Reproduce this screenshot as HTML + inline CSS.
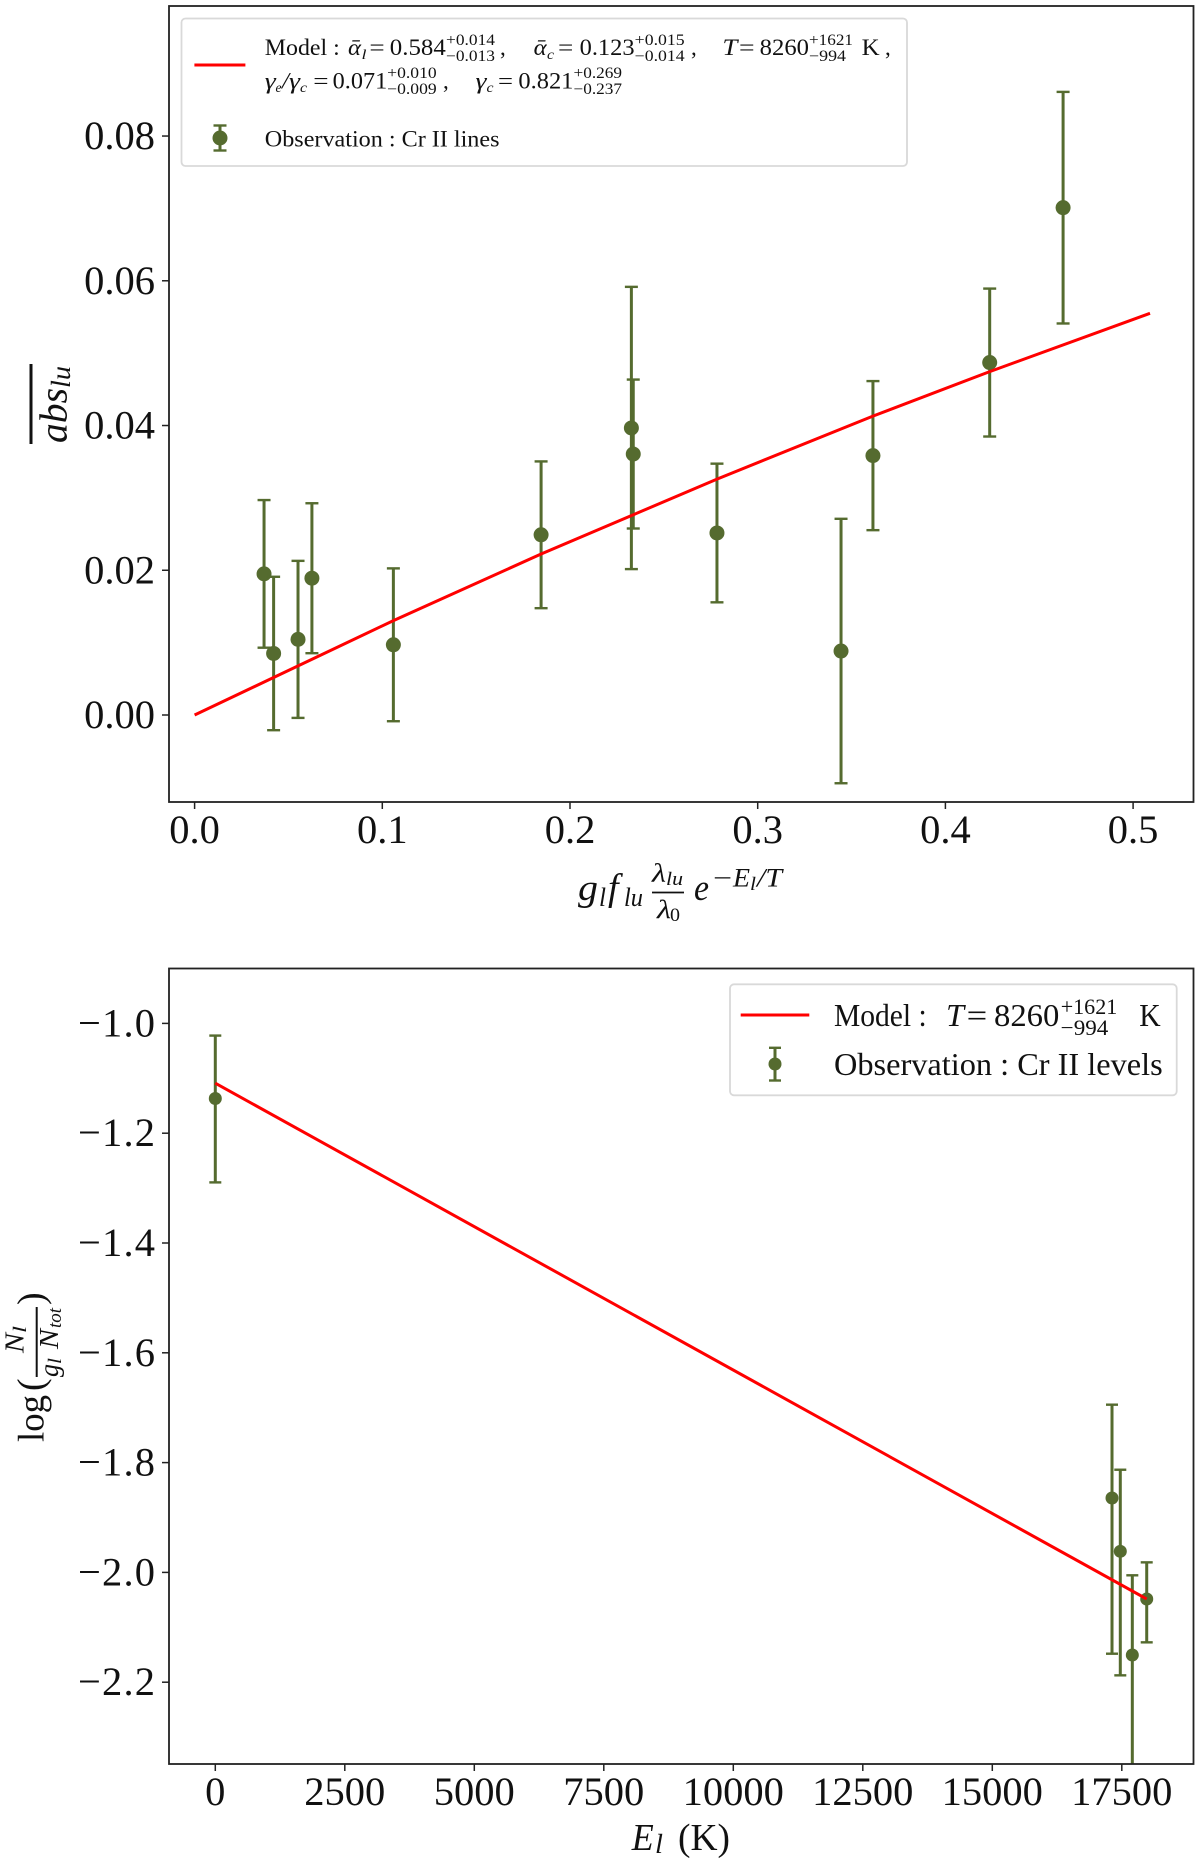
<!DOCTYPE html>
<html lang="en">
<head>
<meta charset="utf-8">
<title>Cr II absorption lines and level populations</title>
<style>
html,body{margin:0;padding:0;background:#fff;width:1200px;height:1863px;overflow:hidden}
svg{display:block}
text{font-family:"Liberation Serif",serif;fill:#111}
.i{font-style:italic}
</style>
</head>
<body>
<svg id="chart" xmlns="http://www.w3.org/2000/svg" width="1200" height="1863" viewBox="0 0 1200 1863">
<defs>
<clipPath id="clip-top"><rect x="169" y="6" width="1024.5" height="796"/></clipPath>
<clipPath id="clip-bot"><rect x="169" y="968.5" width="1024.5" height="795.5"/></clipPath>
</defs>
<g id="top-plot"></g>
<g id="bot-plot"></g>

<g>
<rect x="181.5" y="18.5" width="725.5" height="147.5" rx="4" fill="#fff" fill-opacity=".9" stroke="#d9d9d9" stroke-width="1.8"/>
<line x1="194.4" y1="65" x2="245.4" y2="65" stroke="#ff0000" stroke-width="3"/>
<g stroke="#556b2f" stroke-width="3">
<line x1="220" y1="125" x2="220" y2="151"/><line x1="213.5" y1="125.5" x2="226.5" y2="125.5" stroke-width="2.4"/><line x1="213.5" y1="150.5" x2="226.5" y2="150.5" stroke-width="2.4"/>
<circle cx="220" cy="138" r="7.5" fill="#556b2f" stroke="none"/>
</g>
<g font-size="23">
<text x="264.8" y="55" textLength="75" lengthAdjust="spacingAndGlyphs">Model :</text>
<text class="i" x="348" y="55" textLength="13" lengthAdjust="spacingAndGlyphs">ᾱ</text><text class="i" x="361.5" y="59" font-size="14" textLength="5" lengthAdjust="spacingAndGlyphs">l</text>
<text x="369.4" y="55" textLength="15.3" lengthAdjust="spacingAndGlyphs">=</text>
<text x="389.8" y="55" textLength="56" lengthAdjust="spacingAndGlyphs">0.584</text>
<text x="446" y="45" font-size="15.5" textLength="49" lengthAdjust="spacingAndGlyphs">+0.014</text>
<text x="446" y="61" font-size="15.5" textLength="49" lengthAdjust="spacingAndGlyphs">−0.013</text>
<text x="500" y="55">,</text>
<text class="i" x="533.7" y="55" textLength="13" lengthAdjust="spacingAndGlyphs">ᾱ</text><text class="i" x="547" y="59" font-size="14" textLength="7" lengthAdjust="spacingAndGlyphs">c</text>
<text x="558" y="55" textLength="15.3" lengthAdjust="spacingAndGlyphs">=</text>
<text x="579.6" y="55" textLength="55" lengthAdjust="spacingAndGlyphs">0.123</text>
<text x="634.7" y="45" font-size="15.5" textLength="50" lengthAdjust="spacingAndGlyphs">+0.015</text>
<text x="634.7" y="61" font-size="15.5" textLength="50" lengthAdjust="spacingAndGlyphs">−0.014</text>
<text x="691" y="55">,</text>
<text class="i" x="722.4" y="55" textLength="15" lengthAdjust="spacingAndGlyphs">T</text>
<text x="739" y="55" textLength="15.6" lengthAdjust="spacingAndGlyphs">=</text>
<text x="759.7" y="55" textLength="49.3" lengthAdjust="spacingAndGlyphs">8260</text>
<text x="809" y="45" font-size="15.5" textLength="44" lengthAdjust="spacingAndGlyphs">+1621</text>
<text x="809" y="61" font-size="15.5" textLength="37" lengthAdjust="spacingAndGlyphs">−994</text>
<text x="861.7" y="55" textLength="18" lengthAdjust="spacingAndGlyphs">K</text>
<text x="885" y="55">,</text>
<text class="i" x="264.8" y="88.3" textLength="11" lengthAdjust="spacingAndGlyphs">γ</text><text class="i" x="275.5" y="92" font-size="14" textLength="6" lengthAdjust="spacingAndGlyphs">e</text>
<text class="i" x="282" y="88.3" textLength="7" lengthAdjust="spacingAndGlyphs">/</text>
<text class="i" x="289" y="88.3" textLength="11" lengthAdjust="spacingAndGlyphs">γ</text><text class="i" x="300" y="92" font-size="14" textLength="7" lengthAdjust="spacingAndGlyphs">c</text>
<text x="313.3" y="88.3" textLength="15.3" lengthAdjust="spacingAndGlyphs">=</text>
<text x="332.7" y="88.3" textLength="54.5" lengthAdjust="spacingAndGlyphs">0.071</text>
<text x="387.2" y="78" font-size="15.5" textLength="49.5" lengthAdjust="spacingAndGlyphs">+0.010</text>
<text x="387.2" y="94" font-size="15.5" textLength="49.5" lengthAdjust="spacingAndGlyphs">−0.009</text>
<text x="443" y="88.3">,</text>
<text class="i" x="475.5" y="88.3" textLength="11" lengthAdjust="spacingAndGlyphs">γ</text><text class="i" x="486.5" y="92" font-size="14" textLength="7" lengthAdjust="spacingAndGlyphs">c</text>
<text x="498" y="88.3" textLength="15" lengthAdjust="spacingAndGlyphs">=</text>
<text x="518.4" y="88.3" textLength="55" lengthAdjust="spacingAndGlyphs">0.821</text>
<text x="573.5" y="78" font-size="15.5" textLength="48.5" lengthAdjust="spacingAndGlyphs">+0.269</text>
<text x="573.5" y="94" font-size="15.5" textLength="48.5" lengthAdjust="spacingAndGlyphs">−0.237</text>
</g>
<text x="264.8" y="146.5" font-size="23" textLength="234.7" lengthAdjust="spacingAndGlyphs">Observation : Cr II lines</text>
</g>

<g>
<rect x="730" y="984.3" width="446.7" height="111" rx="4" fill="#fff" fill-opacity=".9" stroke="#d9d9d9" stroke-width="1.8"/>
<line x1="740.7" y1="1015" x2="809.3" y2="1015" stroke="#ff0000" stroke-width="3"/>
<g stroke="#556b2f" stroke-width="3">
<line x1="775" y1="1047.5" x2="775" y2="1081"/><line x1="769" y1="1047.8" x2="781" y2="1047.8" stroke-width="2.4"/><line x1="769" y1="1080.5" x2="781" y2="1080.5" stroke-width="2.4"/>
<circle cx="775" cy="1064" r="6.5" fill="#556b2f" stroke="none"/>
</g>
<g font-size="32">
<text x="834" y="1026" textLength="92.7" lengthAdjust="spacingAndGlyphs">Model :</text>
<text class="i" x="946" y="1026" textLength="18" lengthAdjust="spacingAndGlyphs">T</text>
<text x="966.7" y="1026" textLength="20.6" lengthAdjust="spacingAndGlyphs">=</text>
<text x="994" y="1026" textLength="65.3" lengthAdjust="spacingAndGlyphs">8260</text>
<text x="1060.7" y="1014" font-size="22" textLength="56.6" lengthAdjust="spacingAndGlyphs">+1621</text>
<text x="1060.7" y="1035" font-size="22" textLength="47.6" lengthAdjust="spacingAndGlyphs">−994</text>
<text x="1139.3" y="1026" textLength="21.4" lengthAdjust="spacingAndGlyphs">K</text>
</g>
<text x="834" y="1075" font-size="32" textLength="328.7" lengthAdjust="spacingAndGlyphs">Observation : Cr II levels</text>
</g>

<g>
<text class="i" x="578" y="900" font-size="37" textLength="20" lengthAdjust="spacingAndGlyphs">g</text>
<text class="i" x="599" y="906" font-size="26" textLength="7" lengthAdjust="spacingAndGlyphs">l</text>
<text class="i" x="608" y="900" font-size="38">f</text>
<text class="i" x="624" y="906" font-size="26" textLength="19" lengthAdjust="spacingAndGlyphs">lu</text>
<text class="i" x="652" y="881.7" font-size="26" textLength="14" lengthAdjust="spacingAndGlyphs">λ</text>
<text class="i" x="666" y="885" font-size="19" textLength="17" lengthAdjust="spacingAndGlyphs">lu</text>
<line x1="652" y1="892.5" x2="684" y2="892.5" stroke="#111" stroke-width="1.8"/>
<text class="i" x="657" y="918" font-size="26" textLength="14" lengthAdjust="spacingAndGlyphs">λ</text>
<text x="670" y="921" font-size="19" textLength="10" lengthAdjust="spacingAndGlyphs">0</text>
<text class="i" x="694" y="900" font-size="37" textLength="15" lengthAdjust="spacingAndGlyphs">e</text>
<text x="713" y="886.7" font-size="26" textLength="19" lengthAdjust="spacingAndGlyphs">−</text>
<text class="i" x="733" y="886.7" font-size="26" textLength="17" lengthAdjust="spacingAndGlyphs">E</text>
<text class="i" x="750" y="890" font-size="19" textLength="6" lengthAdjust="spacingAndGlyphs">l</text>
<text class="i" x="757" y="886.7" font-size="26" textLength="25" lengthAdjust="spacingAndGlyphs">/T</text>
</g>

<g>
<line x1="31" y1="364" x2="31" y2="444" stroke="#111" stroke-width="3"/>
<text class="i" transform="translate(66.7,443) rotate(-90)" font-size="39" textLength="55" lengthAdjust="spacingAndGlyphs">abs</text>
<text class="i" transform="translate(70,388) rotate(-90)" font-size="27" textLength="22" lengthAdjust="spacingAndGlyphs">lu</text>
</g>

<g>
<text class="i" x="631.7" y="1850" font-size="38" textLength="22" lengthAdjust="spacingAndGlyphs">E</text>
<text class="i" x="655" y="1853" font-size="27" textLength="8" lengthAdjust="spacingAndGlyphs">l</text>
<text x="678" y="1850" font-size="38" textLength="52" lengthAdjust="spacingAndGlyphs">(K)</text>
</g>

<g>
<text transform="translate(43.3,1442) rotate(-90)" font-size="37" textLength="47" lengthAdjust="spacingAndGlyphs">log</text>
<text transform="translate(43.3,1391) rotate(-90)" font-size="38">(</text>
<text class="i" transform="translate(23.3,1353) rotate(-90)" font-size="27" textLength="20" lengthAdjust="spacingAndGlyphs">N</text>
<text class="i" transform="translate(26,1333) rotate(-90)" font-size="19" textLength="7" lengthAdjust="spacingAndGlyphs">l</text>
<line x1="36.7" y1="1377" x2="36.7" y2="1307" stroke="#111" stroke-width="2"/>
<text class="i" transform="translate(58,1377) rotate(-90)" font-size="27" textLength="13" lengthAdjust="spacingAndGlyphs">g</text>
<text class="i" transform="translate(61,1364) rotate(-90)" font-size="19" textLength="6" lengthAdjust="spacingAndGlyphs">l</text>
<text class="i" transform="translate(58,1349) rotate(-90)" font-size="27" textLength="20" lengthAdjust="spacingAndGlyphs">N</text>
<text class="i" transform="translate(61,1328) rotate(-90)" font-size="19" textLength="20" lengthAdjust="spacingAndGlyphs">tot</text>
<text transform="translate(43.3,1305) rotate(-90)" font-size="38">)</text>
</g>
</svg>

<script>
// Top panel data
const lineStrengthX = [0.0370, 0.0421, 0.0551, 0.0625, 0.1059, 0.1846, 0.2327, 0.2337, 0.2783, 0.3444, 0.3614, 0.4236, 0.4627];
const lineAbsorption = [0.0195, 0.0085, 0.01045, 0.0189, 0.0097, 0.0249, 0.03966, 0.03606, 0.02515, 0.00884, 0.03584, 0.0487, 0.0701];
const lineAbsorptionErr = [0.0102, 0.0106, 0.01085, 0.01036, 0.01056, 0.01014, 0.0195, 0.01029, 0.00958, 0.01827, 0.0103, 0.01022, 0.016];
const lineModelX = [0, 0.1059, 0.1846, 0.2783, 0.3614, 0.4236, 0.509];
const lineModelY = [0, 0.01304, 0.02225, 0.0326, 0.0413, 0.04745, 0.0555];
const topXTicks = [0, 0.1, 0.2, 0.3, 0.4, 0.5];
const topXLabels = ['0.0', '0.1', '0.2', '0.3', '0.4', '0.5'];
const topYTicks = [0, 0.02, 0.04, 0.06, 0.08];
const topYLabels = ['0.00', '0.02', '0.04', '0.06', '0.08'];

// Bottom panel data
const levelEnergy = [0, 17311, 17471, 17703, 17981];
const levelPop = [-1.1368, -1.8645, -1.9616, -2.1505, -2.0485];
const levelErrUp = [0.1146, 0.17, 0.1486, 0.1452, 0.0668];
const levelErrDown = [0.1528, 0.2836, 0.2259, 0.42, 0.0789];
const levelModelX = [0, 17981];
const levelModelY = [-1.109, -2.0485];
const botXTicks = [0, 2500, 5000, 7500, 10000, 12500, 15000, 17500];
const botXLabels = ['0', '2500', '5000', '7500', '10000', '12500', '15000', '17500'];
const botYTicks = [-1.0, -1.2, -1.4, -1.6, -1.8, -2.0, -2.2];
const botYLabels = ['−1.0', '−1.2', '−1.4', '−1.6', '−1.8', '−2.0', '−2.2'];

const SVGNS = 'http://www.w3.org/2000/svg';
const OLIVE = '#556b2f';

function xTop(v) { return 194.6 + v * 1877; }
function yTop(v) { return 715 - v * 7237; }
function xBot(v) { return 215.3 + v * 0.0518; }
function yBot(v) { return 1023.4 + (-1 - v) * 549; }

function make(tag, parent, attrs) {
  const node = document.createElementNS(SVGNS, tag);
  for (const k in attrs) node.setAttribute(k, attrs[k]);
  parent.appendChild(node);
  return node;
}

function drawAxes(parent, prefix, box, xTicks, xLabels, yTicks, yLabels, xFn, yFn) {
  const frame = make('rect', parent, {x: box.x, y: box.y, width: box.w, height: box.h, fill: 'none', stroke: '#222', 'stroke-width': 1.8});
  
  
  xTicks.forEach(function (t, i) {
    const px = xFn(t);
    const tick = make('line', parent, {x1: px, x2: px, y1: box.y + box.h, y2: box.y + box.h + 7, stroke: '#222', 'stroke-width': 1.5});
    
    
    const label = make('text', parent, {x: px, y: box.y + box.h + 41, 'text-anchor': 'middle', 'font-size': 40.5});
    
    
    label.textContent = xLabels[i];
  });
  yTicks.forEach(function (t, i) {
    const py = yFn(t);
    const tick = make('line', parent, {x1: box.x - 7, x2: box.x, y1: py, y2: py, stroke: '#222', 'stroke-width': 1.5});
    
    
    const label = make('text', parent, {x: box.x - 14, y: py + 13, 'text-anchor': 'end', 'font-size': 40.5});
    
    
    label.textContent = yLabels[i];
    if (yLabels[i].charAt(0) === '−') label.setAttribute('textLength', 77);
  });
}

function drawErrorBar(parent, name, px, pyVal, pyHi, pyLo, cap, r) {
  const group = make('g', parent, {stroke: OLIVE});
  
  
  make('line', group, {x1: px, x2: px, y1: pyHi, y2: pyLo, 'stroke-width': 3});
  make('line', group, {x1: px - cap, x2: px + cap, y1: pyHi, y2: pyHi, 'stroke-width': 2.4});
  make('line', group, {x1: px - cap, x2: px + cap, y1: pyLo, y2: pyLo, 'stroke-width': 2.4});
  make('circle', group, {cx: px, cy: pyVal, r: r, fill: OLIVE, stroke: 'none'});
}

function drawModel(parent, name, xs, ys, xFn, yFn) {
  const pts = xs.map(function (x, i) { return xFn(x).toFixed(1) + ',' + yFn(ys[i]).toFixed(1); }).join(' ');
  const line = make('polyline', parent, {points: pts, fill: 'none', stroke: '#ff0000', 'stroke-width': 3});
  
  
}

const topPlot = document.getElementById('top-plot');
const topMarks = make('g', topPlot, {'clip-path': 'url(#clip-top)'});


lineStrengthX.forEach(function (x, i) {
  drawErrorBar(topMarks, 'line-observation-point', xTop(x), yTop(lineAbsorption[i]),
    yTop(lineAbsorption[i] + lineAbsorptionErr[i]), yTop(lineAbsorption[i] - lineAbsorptionErr[i]), 6.5, 7.5);
});
drawModel(topMarks, 'line-model-curve', lineModelX, lineModelY, xTop, yTop);
drawAxes(topPlot, 'top', {x: 169, y: 6, w: 1024.5, h: 796}, topXTicks, topXLabels, topYTicks, topYLabels, xTop, yTop);

const botPlot = document.getElementById('bot-plot');
const botMarks = make('g', botPlot, {'clip-path': 'url(#clip-bot)'});


levelEnergy.forEach(function (x, i) {
  drawErrorBar(botMarks, 'level-observation-point', xBot(x), yBot(levelPop[i]),
    yBot(levelPop[i] + levelErrUp[i]), yBot(levelPop[i] - levelErrDown[i]), 6, 6.5);
});
drawModel(botMarks, 'level-model-line', levelModelX, levelModelY, xBot, yBot);
drawAxes(botPlot, 'bottom', {x: 169, y: 968.5, w: 1024.5, h: 795.5}, botXTicks, botXLabels, botYTicks, botYLabels, xBot, yBot);
</script>
</body>
</html>
